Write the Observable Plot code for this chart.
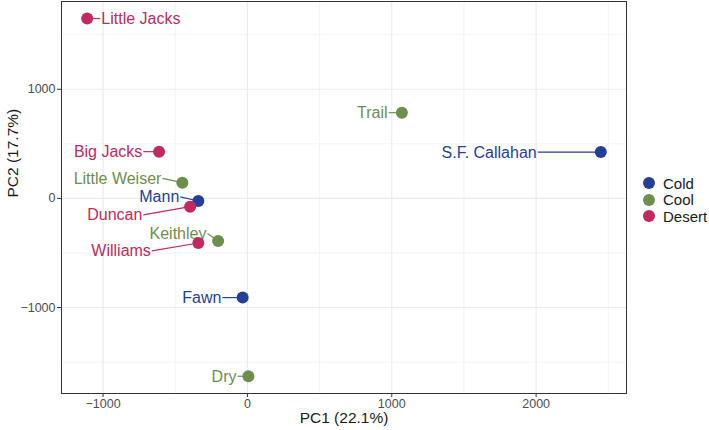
<!DOCTYPE html>
<html>
<head>
<meta charset="utf-8">
<script src="https://cdn.jsdelivr.net/npm/d3@7"></script>
<script src="https://cdn.jsdelivr.net/npm/@observablehq/plot@0.6"></script>
<style>
  html, body { margin: 0; padding: 0; background: #fff; }
  #wrap { position: relative; width: 709px; height: 430px; font-family: "Liberation Sans", Arial, sans-serif; }
  #legend { position: absolute; left: 643px; top: 175px; font-size: 15px; color: #1a1a1a; }
  #legend .row { display: flex; align-items: center; height: 16.5px; }
  #legend .sw { width: 12px; height: 12px; border-radius: 50%; margin-right: 8px; }
</style>
</head>
<body>
<div id="wrap"></div>
<script>
// ---- data ----
const sites   = ["Little Jacks","Big Jacks","Little Weiser","Mann","Duncan","Keithley","Williams","Fawn","Dry","Trail","S.F. Callahan"];
const pc1     = [-1110, -612, -451, -340, -397, -203, -340, -33, 7, 1070, 2448];
const pc2     = [1648, 427, 144, -24, -76, -391, -409, -909, -1630, 785, 424];
const climate = ["Desert","Desert","Cool","Cold","Desert","Cool","Desert","Cold","Cool","Cool","Cold"];
const groups  = ["Cold","Cool","Desert"];
const xTicks  = [-1000, 0, 1000, 2000];
const yTicks  = [-1000, 0, 1000];
const xMinor  = [-500, 500, 1500, 2500];
const yMinor  = [-1500, -500, 500, 1500];
const xTitle  = "PC1 (22.1%)";
const yTitle  = "PC2 (17.7%)";

// ---- layout (repelled label anchors, data units) ----
const labelX    = [-1019, -721, -589, -465, -721, -277, -662, -173, -69, 978, 2011];
const labelY    = [1648, 428, 183, 14, -151, -321, -481, -909, -1630, 785, 424];
const labelSide = ["start","end","end","end","end","end","end","end","end","end","end"];
const colors    = ["#243f98", "#6e8e4d", "#c02a60"];

const data = sites.map((s, i) => ({
  site: s, pc1: pc1[i], pc2: pc2[i], climate: climate[i],
  lx: labelX[i], ly: labelY[i], side: labelSide[i]
}));

const font = "'Liberation Sans', Arial, sans-serif";
const fmt = d => d < 0 ? "\u2212" + Math.abs(d) : String(d);

const plot = Plot.plot({
  width: 709,
  height: 430,
  marginLeft: 61,
  marginRight: 83,
  marginTop: 1,
  marginBottom: 37,
  style: { fontFamily: font, background: "#fff" },
  x: { domain: [-1288, 2626] },
  y: { domain: [-1788, 1804] },
  color: { domain: groups, range: colors },
  marks: [
    Plot.ruleX(xMinor, { stroke: "#ebebeb", strokeWidth: 0.6 }),
    Plot.ruleY(yMinor, { stroke: "#ebebeb", strokeWidth: 0.6 }),
    Plot.ruleX(xTicks, { stroke: "#ebebeb", strokeWidth: 1.1 }),
    Plot.ruleY(yTicks, { stroke: "#ebebeb", strokeWidth: 1.1 }),
    Plot.axisX(xTicks, { tickSize: 4, tickPadding: 2, fontSize: 12.5, fill: "#4d4d4d", stroke: "#333", label: null, tickFormat: fmt }),
    Plot.axisY(yTicks, { tickSize: 4, tickPadding: 2, fontSize: 12.5, fill: "#4d4d4d", stroke: "#333", label: null, tickFormat: fmt }),
    Plot.text([xTitle], { frameAnchor: "bottom", lineAnchor: "middle", dy: 25, fontSize: 15.5, fill: "#1a1a1a" }),
    Plot.text([yTitle], { frameAnchor: "left", dx: -48, rotate: -90, fontSize: 15.5, fill: "#1a1a1a" }),
    Plot.frame({ stroke: "#333", strokeWidth: 1 }),
    Plot.link(data, { x1: "pc1", y1: "pc2", x2: "lx", y2: "ly", stroke: "climate", strokeWidth: 1.2 }),
    Plot.text(data.filter(d => d.side === "end"), { x: "lx", y: "ly", text: "site", fill: "climate", textAnchor: "end", dx: -1, dy: 0.5, fontSize: 16 }),
    Plot.text(data.filter(d => d.side === "start"), { x: "lx", y: "ly", text: "site", fill: "climate", textAnchor: "start", dx: 1, dy: 0.5, fontSize: 16 }),
    Plot.dot(data, { x: "pc1", y: "pc2", fill: "climate", r: 6, stroke: "none" })
  ]
});

const wrap = document.getElementById("wrap");
wrap.appendChild(plot);

const legend = document.createElement("div");
legend.id = "legend";
groups.forEach((g, i) => {
  const row = document.createElement("div");
  row.className = "row";
  const sw = document.createElement("div");
  sw.className = "sw";
  sw.style.background = colors[i];
  const t = document.createElement("span");
  t.textContent = g;
  row.appendChild(sw); row.appendChild(t);
  legend.appendChild(row);
});
wrap.appendChild(legend);
</script>
</body>
</html>
